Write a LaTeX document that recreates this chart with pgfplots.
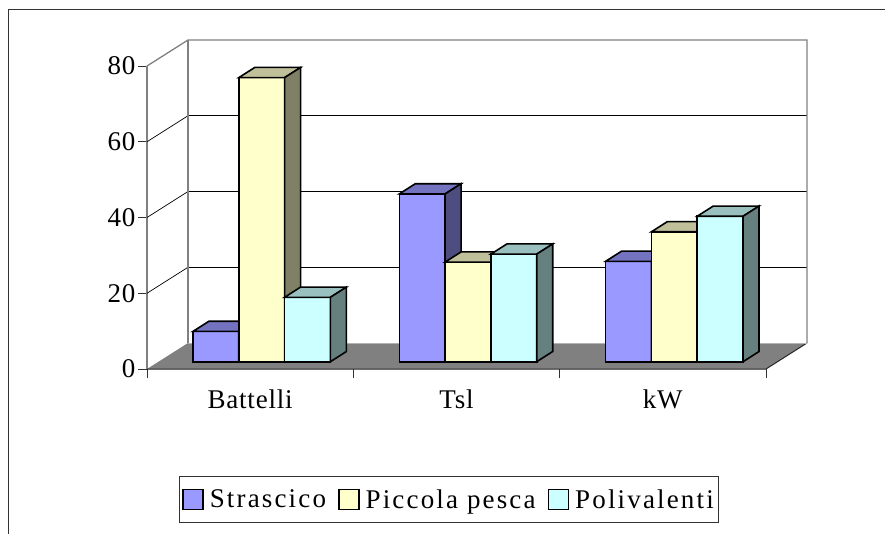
\documentclass[border=0pt]{standalone}
\usepackage{pgfplots}
\pgfplotsset{compat=1.18}
\usepackage{fontspec}
\setmainfont{Liberation Serif}
\newfontfamily\lblfont{Liberation Serif}[LetterSpace=3]
\newfontfamily\legfont{Liberation Serif}[LetterSpace=8]

\definecolor{sFront}{HTML}{9999FF}\definecolor{sTop}{HTML}{7373BF}\definecolor{sSide}{HTML}{4D4D80}
\definecolor{pFront}{HTML}{FFFFCC}\definecolor{pTop}{HTML}{BFBF99}\definecolor{pSide}{HTML}{808066}
\definecolor{vFront}{HTML}{CCFFFF}\definecolor{vTop}{HTML}{99BFBF}\definecolor{vSide}{HTML}{668080}
\definecolor{floorgray}{HTML}{808080}

% 3D bar mark: name, horizontal series shift, front, top, side colours
\newcommand\defbarmark[5]{%
\pgfdeclareplotmark{#1}{%
  \pgfmathsetlengthmacro\hh{\barval*3.7875pt}%
  \pgfmathsetlengthmacro\hs{10.2pt-\hh}%
  \pgftransformshift{\pgfpoint{#2+11.5pt}{7.3pt}}%
  \pgfsetlinewidth{1.6pt}\pgfsetstrokecolor{black}%
  \pgfsetfillcolor{#3}%
  \pgfpathrectangle{\pgfpoint{-22.9pt}{-\hh}}{\pgfpoint{45.8pt}{\hh}}%
  \pgfusepath{fill,stroke}%
  \pgfsetfillcolor{#4}%
  \pgfpathmoveto{\pgfpoint{-22.9pt}{0pt}}\pgfpathlineto{\pgfpoint{-6.9pt}{10.2pt}}%
  \pgfpathlineto{\pgfpoint{38.9pt}{10.2pt}}\pgfpathlineto{\pgfpoint{22.9pt}{0pt}}\pgfpathclose
  \pgfusepath{fill,stroke}%
  \pgfsetfillcolor{#5}%
  \pgfpathmoveto{\pgfpoint{22.9pt}{0pt}}\pgfpathlineto{\pgfpoint{38.9pt}{10.2pt}}%
  \pgfpathlineto{\pgfpoint{38.9pt}{\hs}}\pgfpathlineto{\pgfpoint{22.9pt}{-\hh}}\pgfpathclose
  \pgfusepath{fill,stroke}%
}}
\defbarmark{barS}{-45.8pt}{sFront}{sTop}{sSide}
\defbarmark{barP}{0pt}{pFront}{pTop}{pSide}
\defbarmark{barV}{45.8pt}{vFront}{vTop}{vSide}

\begin{document}
\begin{tikzpicture}
\useasboundingbox (0pt,0pt) rectangle (885pt,-534pt);
\draw[black!80, line width=1pt] (8pt,-560pt) -- (8pt,-10pt) -- (900pt,-10pt);
\begin{axis}[
  at={(147pt,-369pt)}, anchor=south west,
  scale only axis, width=619pt, height=303pt,
  xmin=0, xmax=3, ymin=0, ymax=80,
  clip=false,
  axis x line=bottom, axis y line=left,
  x axis line style={draw=none},
  y axis line style={draw=floorgray, line width=1.3pt, -},
  tick align=outside,
  major tick length=9pt,
  tick style={black!80, line width=0.8pt},
  xtick={0,1,2,3}, xticklabels={},
  extra x ticks={0.5,1.5,2.5},
  extra x tick labels={Battelli,Tsl,kW},
  extra x tick style={major tick length=0pt},
  xticklabel style={font=\lblfont\fontsize{27}{32}\selectfont, yshift=-17pt},
  ytick={0,20,40,60,80},
  yticklabel style={font=\lblfont\fontsize{27}{32}\selectfont, xshift=1pt},
  /pgf/number format/assume math mode=true,
  legend style={at={(0.4879,-0.4307)}, anchor=center, draw=black!80, line width=0.8pt,
    legend columns=3, font=\legfont\fontsize{27}{32}\selectfont,
    nodes={inner ysep=11pt},
    /tikz/every odd column/.append style={column sep=4pt},
    /tikz/every even column/.append style={column sep=10pt}},
]
% floor
\fill[floorgray] (axis cs:0,0) -- (axis cs:3,0) -- (axis cs:3.1987,6.865) -- (axis cs:0.1987,6.865) -- cycle;
\draw[black!85, line width=1pt] (axis cs:0,0) -- (axis cs:3,0) -- (axis cs:3.1987,6.865);
% back wall gridlines
\draw[black, line width=0.7pt] (axis cs:0.1987,26.865) -- (axis cs:3.1987,26.865);
\draw[black, line width=0.7pt] (axis cs:0.1987,46.865) -- (axis cs:3.1987,46.865);
\draw[black, line width=0.7pt] (axis cs:0.1987,66.865) -- (axis cs:3.1987,66.865);
\draw[black, line width=0.7pt] (axis cs:0,20) -- (axis cs:0.1987,26.865);
\draw[black, line width=0.7pt] (axis cs:0,40) -- (axis cs:0.1987,46.865);
\draw[black, line width=0.7pt] (axis cs:0,60) -- (axis cs:0.1987,66.865);
% back wall edges
\draw[floorgray, line width=1.3pt] (axis cs:0,80) -- (axis cs:0.1987,86.865) -- (axis cs:3.1987,86.865) -- (axis cs:3.1987,6.865);
\draw[floorgray, line width=1.3pt] (axis cs:0.1987,6.865) -- (axis cs:0.1987,86.865);
\draw[black!30, line width=0.8pt] (axis cs:0.1987,6.865) -- (axis cs:3.1987,6.865);

\addplot[scatter, only marks, mark=barS, visualization depends on={rawy \as \barval},
  legend image code/.code={\draw[fill=sFront, line width=1.6pt] (0pt,-10pt) rectangle (20pt,10pt);}]
  coordinates {(0.5,8) (1.5,44.3) (2.5,26.5)};
\addlegendentry{Strascico}
\addplot[scatter, only marks, mark=barP, visualization depends on={rawy \as \barval},
  legend image code/.code={\draw[fill=pFront, line width=1.6pt] (0pt,-10pt) rectangle (20pt,10pt);}]
  coordinates {(0.5,75) (1.5,26.3) (2.5,34.3)};
\addlegendentry{Piccola pesca}
\addplot[scatter, only marks, mark=barV, visualization depends on={rawy \as \barval},
  legend image code/.code={\draw[fill=vFront, line width=1.6pt] (0pt,-10pt) rectangle (20pt,10pt);}]
  coordinates {(0.5,17) (1.5,28.4) (2.5,38.4)};
\addlegendentry{Polivalenti}
\end{axis}
\end{tikzpicture}
\end{document}
